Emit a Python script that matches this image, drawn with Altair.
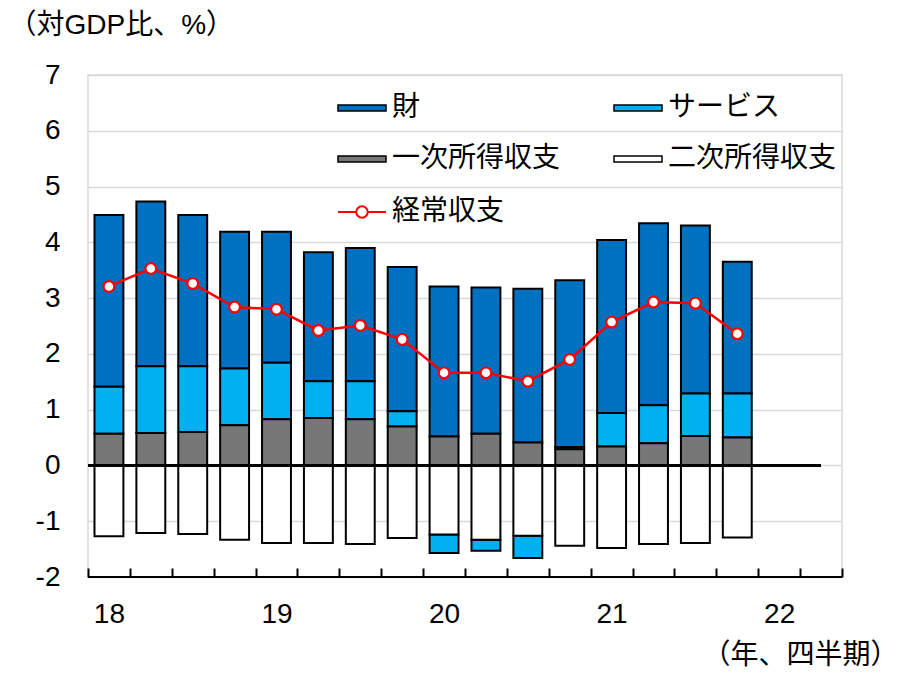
import altair as alt
import pandas as pd

# ---------------- data ----------------
quarters = ["18Q1", "18Q2", "18Q3", "18Q4", "19Q1", "19Q2", "19Q3", "19Q4",
            "20Q1", "20Q2", "20Q3", "20Q4", "21Q1", "21Q2", "21Q3", "21Q4"]
axis_quarters = quarters + ["22Q1", "22Q2"]

goods = [3.08, 2.95, 2.71, 2.45, 2.35, 2.31, 2.39, 2.59,
         2.69, 2.62, 2.76, 2.99, 3.10, 3.26, 3.01, 2.36]
services = [0.84, 1.20, 1.18, 1.02, 1.01, 0.66, 0.68, 0.27,
            -0.33, -0.20, -0.40, 0.04, 0.60, 0.68, 0.76, 0.79]
primary = [0.57, 0.58, 0.60, 0.72, 0.83, 0.85, 0.83, 0.70,
           0.52, 0.57, 0.41, 0.29, 0.34, 0.40, 0.53, 0.50]
secondary = [-1.27, -1.21, -1.23, -1.33, -1.39, -1.39, -1.41, -1.30,
             -1.24, -1.33, -1.26, -1.44, -1.48, -1.41, -1.39, -1.29]
current = [3.21, 3.53, 3.26, 2.84, 2.80, 2.42, 2.51, 2.26,
           1.66, 1.66, 1.51, 1.90, 2.57, 2.93, 2.91, 2.36]

series_names = ["財", "サービス", "一次所得収支", "二次所得収支"]
series_colors = {"財": "#0070C0", "サービス": "#00B0F0",
                 "一次所得収支": "#777777", "二次所得収支": "#FFFFFF"}
# legend entries are laid out column by column
legend_order = ["財", "一次所得収支", "サービス", "二次所得収支"]
stack_rank = {"一次所得収支": 0, "二次所得収支": 1, "サービス": 2, "財": 3}
line_name = "経常収支"

y_ticks = [-2, -1, 0, 1, 2, 3, 4, 5, 6, 7]

rows = []
for i, q in enumerate(quarters):
    for name, vals in zip(series_names, [goods, services, primary, secondary]):
        rows.append({"q": q, "series": name, "value": vals[i], "rank": stack_rank[name]})
bars_df = pd.DataFrame(rows)
ca_df = pd.DataFrame({"q": quarters, "value": current, "series": line_name})

# ---------------- chart ----------------
W, H = 754, 502
FONT = "Liberation Sans, Arial, Noto Sans CJK JP"

x_enc = alt.X(
    "q:N",
    sort=axis_quarters,
    scale=alt.Scale(domain=axis_quarters, paddingInner=0, paddingOuter=0),
    axis=alt.Axis(
        title="（年、四半期）",
        titleX=W + 56,
        titleY=87,
        titleAlign="right",
        titleBaseline="middle",
        titleAngle=0,
        titleFontSize=28,
        titleFontWeight="normal",
        labelExpr="substring(datum.value, 2) == 'Q1' ? substring(datum.value, 0, 2) : ''",
        labelAngle=0,
        labelFontSize=28,
        labelPadding=23,
        labelOverlap=False,
        labelColor="#000000",
        domain=False,
        grid=False,
        offset=-9,
        tickSize=9,
        tickWidth=2,
        tickColor="#000000",
        tickBand="extent",
    ),
)

y_scale = alt.Scale(domain=[-2, 7], nice=False)
y_axis = alt.Axis(
    values=y_ticks,
    labelExpr="toString(datum.value)",
    title="（対GDP比、%）",
    titleAngle=0,
    titleX=-80,
    titleY=-50,
    titleAlign="left",
    titleBaseline="middle",
    titleFontSize=28,
    titleFontWeight="normal",
    labelFontSize=28,
    labelColor="#000000",
    labelPadding=28,
    domain=False,
    ticks=False,
    tickSize=0,
    grid=True,
    gridColor="#d9d9d9",
    gridWidth=1.5,
)

bar_symbol = "M-1,-0.13H1V0.13H-1Z"
line_symbol = "M-1,0H-0.24M0.24,0H1M-0.24,0A0.24,0.24,0,1,1,0.24,0A0.24,0.24,0,1,1,-0.24,0"

bars = alt.Chart(bars_df).mark_bar(
    stroke="#000000", strokeWidth=2, width=alt.RelativeBandSize(0.69)
).encode(
    x=x_enc,
    y=alt.Y("value:Q", stack="zero", scale=y_scale, axis=y_axis),
    fill=alt.Fill(
        "series:N",
        scale=alt.Scale(domain=legend_order,
                        range=[series_colors[n] for n in legend_order]),
        legend=alt.Legend(
            title=None,
            orient="none",
            legendX=249,
            legendY=8,
            columns=2,
            columnPadding=50,
            rowPadding=12,
            symbolType=bar_symbol,
            symbolSize=2304,
            symbolStrokeColor="#000000",
            symbolStrokeWidth=1.5,
            labelFontSize=28,
            labelOffset=5,
            labelLimit=400,
            labelColor="#000000",
        ),
    ),
    order=alt.Order("rank:Q"),
)

zero_line = alt.Chart(bars_df).mark_rule(color="#000000", strokeWidth=2).encode(
    y=alt.datum(0), x=alt.value(0), x2=alt.value(W - 21)
)

bottom_line = alt.Chart(bars_df).mark_rule(color="#000000", strokeWidth=2).encode(
    y=alt.datum(-2), x=alt.value(0), x2=alt.value(W)
)

ca_line = alt.Chart(ca_df).mark_line(strokeWidth=2.5).encode(
    x=x_enc,
    y=alt.Y("value:Q", scale=y_scale),
    stroke=alt.Stroke(
        "series:N",
        scale=alt.Scale(domain=[line_name], range=["#FF0000"]),
        legend=alt.Legend(
            title=None,
            orient="none",
            legendX=249,
            legendY=112,
            symbolType=line_symbol,
            symbolSize=2304,
            symbolStrokeWidth=2,
            symbolFillColor="#FFFFFF",
            labelFontSize=28,
            labelOffset=5,
            labelLimit=400,
            labelColor="#000000",
        ),
    ),
)

ca_points = alt.Chart(ca_df).mark_point(
    filled=True, fill="#FFFFFF", stroke="#FF0000", strokeWidth=2.2, size=115, opacity=1
).encode(
    x=x_enc,
    y=alt.Y("value:Q", scale=y_scale),
)

chart = alt.layer(bars, zero_line, bottom_line, ca_line, ca_points).properties(
    width=W,
    height=H,
    padding={"left": 80, "top": 67, "right": 61, "bottom": 94},
    autosize=alt.AutoSizeParams(type="none"),
).configure(
    font=FONT,
).configure_view(
    stroke="#d9d9d9", strokeWidth=1.5
).configure_axis(
    labelFont=FONT, titleFont=FONT
).configure_legend(
    labelFont=FONT
)

chart.save("out.html", embed_options={"renderer": "svg", "actions": False})
